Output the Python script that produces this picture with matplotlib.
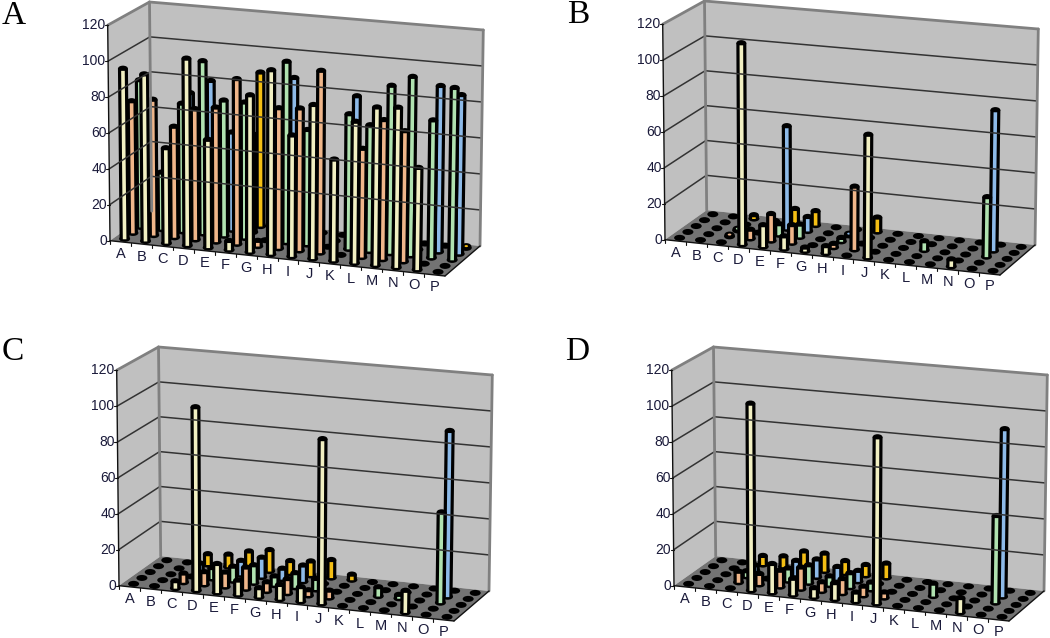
#!/usr/bin/env python3
# -*- coding: utf-8 -*-
import numpy as np
import matplotlib
matplotlib.use("Agg")
import matplotlib.pyplot as plt
from matplotlib.patches import Polygon, Ellipse

categories = list("ABCDEFGHIJKLMNOP")
yticks = [0, 20, 40, 60, 80, 100, 120]

################# Values, one list per row of bars (front row first)
a_cream  = [95, 93, 53, 104, 60, 5, 87, 102, 67, 85, 56, 78, 87, 88, 56, 0]
a_salmon = [74, 76, 62, 73, 75, 92, 3, 78, 79, 101, 0, 60, 77, 72, 0, 0]
a_green  = [83, 32, 72, 97, 76, 76, 0, 101, 64, 0, 75, 70, 93, 99, 76, 95]
a_blue   = [0, 0, 75, 83, 55, 55, 0, 89, 0, 0, 82, 0, 0, 0, 92, 88]
a_orange = [0, 0, 0, 0, 0, 87, 0, 0, 0, 0, 0, 0, 0, 0, 0, 1]

b_cream  = [0, 0, 0, 112, 12, 7, 2, 4, 0, 68, 0, 0, 0, 4, 0, 0]
b_salmon = [0, 0, 1, 5, 15, 10, 0, 2, 35, 0, 0, 0, 0, 0, 0, 0]
b_green  = [0, 0, 1, 0, 6, 7, 0, 2, 0, 0, 0, 5, 0, 0, 33, 0]
b_blue   = [0, 0, 0, 0, 58, 8, 0, 1, 0, 0, 0, 0, 0, 0, 78, 0]
b_orange = [0, 0, 2, 0, 8, 8, 0, 0, 8, 0, 0, 0, 0, 0, 0, 0]

c_cream  = [0, 0, 4, 102, 16, 8, 5, 8, 8, 91, 0, 0, 0, 12, 0, 0]
c_salmon = [0, 0, 5, 7, 8, 12, 5, 8, 3, 4, 0, 0, 0, 0, 0, 0]
c_green  = [0, 0, 0, 6, 8, 10, 5, 8, 6, 0, 0, 5, 2, 0, 50, 0]
c_blue   = [0, 0, 4, 0, 8, 11, 6, 9, 0, 0, 0, 0, 0, 0, 92, 0]
c_orange = [0, 0, 6, 7, 10, 12, 7, 8, 10, 3, 0, 0, 0, 0, 0, 0]

d_cream  = [0, 0, 0, 104, 16, 9, 5, 9, 5, 92, 0, 0, 0, 8, 0, 0]
d_salmon = [0, 0, 6, 6, 9, 12, 5, 8, 5, 3, 0, 0, 0, 0, 0, 0]
d_green  = [0, 0, 3, 0, 7, 10, 5, 8, 4, 0, 0, 7, 0, 0, 48, 0]
d_blue   = [0, 0, 3, 0, 8, 10, 7, 6, 0, 0, 0, 0, 0, 0, 93, 0]
d_orange = [0, 0, 5, 6, 10, 10, 7, 6, 8, 0, 0, 0, 0, 0, 0, 0]

panels = [("A", [a_cream, a_salmon, a_green, a_blue, a_orange]),
          ("B", [b_cream, b_salmon, b_green, b_blue, b_orange]),
          ("C", [c_cream, c_salmon, c_green, c_blue, c_orange]),
          ("D", [d_cream, d_salmon, d_green, d_blue, d_orange])]

colors = ["#F1EFC2", "#EFB68A", "#B0E2B0", "#8DBAE8", "#F4BE14"]

################# Layout, in pixels of the saved figure
W, H = 1050, 638
offsets = {"A": (0, 0), "B": (555, -1), "C": (9, 345), "D": (564, 345)}
letters = {"A": (14, 24), "B": (578, 23), "C": (13, 360), "D": (577, 360)}
axw, axh = 490, 320

# box corners of one panel: (front/back, left/right, bottom/top)
FLB = np.array([110.0, 240.7])
FLT = np.array([107.7, 25.2])
BLB = np.array([151.7, 211.2])
BLT = np.array([149.5, 2.0])
BRB = np.array([480.0, 246.0])
BRT = np.array([483.3, 30.0])
FRB = np.array([445.0, 276.0])
FRT = np.array([448.5, 57.0])


def proj(u, w, v):
    # trilinear map of the box: u along categories, w in depth, v upwards (0-1)
    bot = (1-w)*((1-u)*FLB+u*FRB)+w*((1-u)*BLB+u*BRB)
    top = (1-w)*((1-u)*FLT+u*FRT)+w*((1-u)*BLT+u*BRT)
    return (1-v)*bot+v*top


def line(ax, p, q, col, lw):
    ax.plot([p[0], q[0]], [p[1], q[1]], color=col, lw=lw, solid_capstyle="round")


def draw_bar(ax, i, k, val, col):
    base = proj((i+0.5)/16, (k+0.5)/5, 0)
    top = proj((i+0.5)/16, (k+0.5)/5, val/120)
    bw = 5.0   # half width of the black body
    cw = 1.8   # half width of the coloured face
    ax.add_patch(Ellipse(base, 2*bw+1, 6, color="black", lw=0))
    if val <= 0:
        return
    ax.add_patch(Polygon([base-[bw, 0], top-[bw, 0], top+[bw, 0], base+[bw, 0]],
                         color="black", lw=0))
    ax.add_patch(Ellipse(top, 2*bw, 6, color="black", lw=0))
    if val < 1.5:
        ax.add_patch(Ellipse(top, 2*cw, 2, color=col, lw=0))
        return
    ftop = top+[0, 2.2]
    fbase = base+[0, 0.4]
    if fbase[1]-ftop[1] > 0.5:
        ax.add_patch(Polygon([fbase-[cw, 0], ftop-[cw, 0], ftop+[cw, 0], fbase+[cw, 0]],
                             color=col, lw=0))


fig = plt.figure(figsize=(W/100, H/100), dpi=100)
fig.patch.set_facecolor("white")

for name, rows in panels:
    dx, dy = offsets[name]
    ax = fig.add_axes([dx/W, 1-(dy+axh)/H, axw/W, axh/H])
    ax.set_xlim(0, axw)
    ax.set_ylim(axh, 0)
    ax.axis("off")

    # walls and floor
    ax.add_patch(Polygon([FLB, FLT, BLT, BLB], color="#C0C0C0", lw=0))
    ax.add_patch(Polygon([BLB, BLT, BRT, BRB], color="#C0C0C0", lw=0))
    ax.add_patch(Polygon([FLB, BLB, BRB, FRB], color="#737373", lw=0))

    # grid lines on both walls
    for t in yticks[1:-1]:
        v = t/120
        p0, p1, p2 = proj(0, 0, v), proj(0, 1, v), proj(1, 1, v)
        line(ax, p0, p1, "#333333", 1.1)
        line(ax, p1, p2, "#333333", 1.1)

    # wall edges
    line(ax, FLT, BLT, "#808080", 2.0)
    line(ax, BLT, BRT, "#808080", 2.0)
    line(ax, BLT, BLB, "#808080", 2.0)
    line(ax, BRT, BRB, "#808080", 2.0)
    line(ax, FLT, FLB, "#111111", 1.0)
    line(ax, FLB, FRB, "#111111", 1.0)
    line(ax, FRB, BRB, "#111111", 1.0)

    # value axis
    for t in yticks:
        p = proj(0, 0, t/120)
        line(ax, p, p-[3, 0], "#111111", 0.8)
        ax.text(p[0]-2.5, p[1], str(t), ha="right", va="center", fontsize=10,
                family="Liberation Sans", color="#1A1A3A", clip_on=False)

    # category axis
    for i, c in enumerate(categories):
        p = proj(i/16, 0, 0)
        line(ax, p, p+[0, 3], "#111111", 0.8)
        p = proj((i+0.5)/16, 0, 0)
        ax.text(p[0], p[1]+12.5, c, ha="center", va="center", fontsize=10.5,
                family="Liberation Sans", color="#1A1A3A", clip_on=False)

    # bars, back row first so the front rows cover them
    for k in range(4, -1, -1):
        for i in range(16):
            draw_bar(ax, i, k, rows[k][i], colors[k])

    x, y = letters[name]
    fig.text(x/W, 1-y/H, name, ha="center", va="baseline", fontsize=24,
             family="Liberation Serif", color="black")

fig.savefig("out.png", dpi=100)
